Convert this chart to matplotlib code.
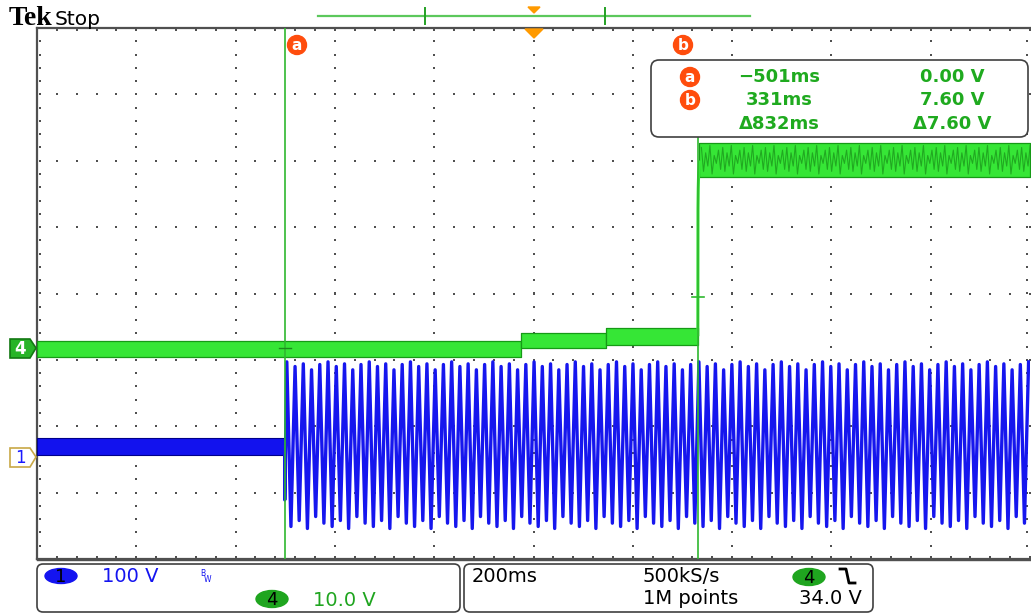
import numpy as np
import matplotlib.pyplot as plt
from matplotlib.patches import FancyBboxPatch, Circle, Ellipse, Polygon

W, H = 1031, 615

# screen: 200 ms/div, 10 x 8 divisions
t_min, t_max = -1000, 1000
ch1_scale = 100.0   # V/div
ch4_scale = 10.0    # V/div
ch1_ground = -2.46  # divisions from screen centre
ch4_ground = -0.82

# channel 4 (green): noisy bands, one per segment (ms, V)
ch4_t0 = [-1000, -26, 147, 334]
ch4_t1 = [-26, 147, 331, 1000]
ch4_lo = [-1.3, 0.0, 0.5, 25.8]
ch4_hi = [1.1, 2.2, 3.0, 30.8]
# rising edge at cursor b
ch4_edge_t = [331, 331.3, 331.8, 332.5, 334.5]
ch4_edge_v = [2.0, 21.0, 24.0, 26.0, 28.0]
# ripple on top of the high level
ch4_ripple_t0 = 336
ch4_ripple_period = 8.6   # ms
ch4_ripple_hi = [30.2, 29.4, 30.5, 29.0, 29.8]
ch4_ripple_lo = [26.6, 27.4, 26.2, 27.8, 26.9]

# channel 1 (blue): noisy DC before cursor a, mains after it
ch1_pre_t = [-1000, -501]
ch1_pre_lo = 2.0
ch1_pre_hi = 28.0
ch1_on_t = -501
ch1_kick = -65.0
ch1_period = 16.6   # ms
ch1_crest = [143, 136, 140, 131, 139]
ch1_trough = [-105, -96, -108, -90, -100]

# cursors
cur_a_t, cur_b_t = -501, 331
cur_b_v = 7.60

readout_ms = ["\u2212501ms", "331ms", "\u0394832ms"]
readout_v = ["0.00 V", "7.60 V", "\u03947.60 V"]

green = '#2fb82f'
trace_green = '#36e636'
blue = '#1616ee'
orange = '#ff4d0d'
grey = '#505050'


def to_div(v, scale, ground):
    return np.asarray(v, dtype=float) / scale + ground


def zigzag(t_start, t_end, period, highs, lows):
    # alternate crest / trough vertices every half period
    ts, vs = [], []
    n = int((t_end - t_start) / (period / 2)) + 1
    for k in range(n):
        ts.append(t_start + (k + 0.5) * period / 2)
        vs.append(highs[(k // 2) % len(highs)] if k % 2 == 0 else lows[(k // 2) % len(lows)])
    return ts, vs


fig = plt.figure(figsize=(W / 100, H / 100), dpi=100)
fig.patch.set_facecolor('white')

# screen axes in pixel-matched position
x0, x1, y0, y1 = 37, 1030, 28, 559
ax = fig.add_axes([x0 / W, 1 - y1 / H, (x1 - x0) / W, (y1 - y0) / H])
ax.set_xlim(t_min, t_max)
ax.set_ylim(-4, 4)
ax.set_xticks([])
ax.set_yticks([])
for side in ['top', 'left', 'bottom']:
    ax.spines[side].set_color(grey)
    ax.spines[side].set_linewidth(1.6)
ax.spines['right'].set_visible(False)

# graticule dots
minor_t = np.arange(t_min, t_max + 1, 40)
minor_y = np.arange(-4, 4.01, 0.2)
for gx in range(-800, 801, 200):
    ax.scatter(np.full(len(minor_y), gx), minor_y, s=1.6, marker='s',
               color=grey, linewidths=0, zorder=1)
for gy in range(-3, 4):
    ax.scatter(minor_t, np.full(len(minor_t), gy), s=1.6, marker='s',
               color=grey, linewidths=0, zorder=1)
# edge ticks
ax.scatter(minor_t, np.full(len(minor_t), 3.97), s=1.6, marker='s', color=grey, linewidths=0)
ax.scatter(minor_t, np.full(len(minor_t), -3.97), s=1.6, marker='s', color=grey, linewidths=0)
ax.scatter(np.full(len(minor_y), -994), minor_y, s=1.6, marker='s', color=grey, linewidths=0)
ax.scatter(np.full(len(minor_y), 994), minor_y, s=1.6, marker='s', color=grey, linewidths=0)

# channel 1 trace
ax.fill_between(ch1_pre_t, to_div(ch1_pre_lo, ch1_scale, ch1_ground),
                to_div(ch1_pre_hi, ch1_scale, ch1_ground),
                color='#1212ee', edgecolor='#00008a', lw=0.8, zorder=3)
zt, zv = zigzag(ch1_on_t, t_max, ch1_period, ch1_crest, ch1_trough)
ct = [ch1_on_t, ch1_on_t] + zt
cv = [(ch1_pre_lo + ch1_pre_hi) / 2, ch1_kick] + zv
ax.plot(ct, to_div(cv, ch1_scale, ch1_ground), color=blue, lw=2.4, zorder=3)

# channel 4 trace
for t0, t1, lo, hi in zip(ch4_t0, ch4_t1, ch4_lo, ch4_hi):
    ax.fill_between([t0, t1], to_div(lo, ch4_scale, ch4_ground),
                    to_div(hi, ch4_scale, ch4_ground),
                    color=trace_green, edgecolor='#169a16', lw=0.9, zorder=4)
ax.plot(ch4_edge_t, to_div(ch4_edge_v, ch4_scale, ch4_ground), color=trace_green,
        lw=2.2, zorder=4)
rt, rv = zigzag(ch4_ripple_t0, t_max, ch4_ripple_period, ch4_ripple_hi, ch4_ripple_lo)
ax.plot(rt, to_div(rv, ch4_scale, ch4_ground), color='#1e9e1e', lw=0.8,
        alpha=0.85, zorder=4)

# cursors (b is hidden behind the readout box above it)
ax.axvline(cur_a_t, color=green, lw=1.2, zorder=5)
ax.plot([cur_b_t, cur_b_t], [-4, (293.5 - 137) / 66.375], color=green, lw=1.2, zorder=5)
yb = to_div(cur_b_v, ch4_scale, ch4_ground)
ax.plot([cur_b_t - 12, cur_b_t + 12], [yb, yb], color=green, lw=1.2, zorder=5)
ya = to_div(0.0, ch4_scale, ch4_ground)
ax.plot([cur_a_t - 12, cur_a_t + 12], [ya, ya], color='#1d8a1d', lw=1.0, zorder=5)

# overlay in pixel coordinates for the scope decorations
ov = fig.add_axes([0, 0, 1, 1], zorder=5)
ov.set_xlim(0, W)
ov.set_ylim(H, 0)
ov.axis('off')
ov.patch.set_alpha(0)

ov.text(9, 25, "Tek", family='Liberation Serif', weight='bold', fontsize=20,
        va='baseline', ha='left')
ov.text(55, 25, "Stop", family='DejaVu Sans', fontsize=14.5, va='baseline', ha='left')

# record bar at the top
ov.plot([318, 750], [16, 16], color='#5cc85c', lw=1.6)
for bx in [425, 605]:
    ov.plot([bx, bx], [8, 24], color='#22a022', lw=1.4)
ov.add_patch(Polygon([[528, 7], [540, 7], [534, 13]], color='#ff9a00'))
ov.add_patch(Polygon([[525, 29], [543, 29], [534, 38]], color='#ff9a00'))


def badge(x, y, letter, r=9.5, fs=11):
    ov.add_patch(Circle((x, y), r, color=orange))
    ov.text(x, y + 0.5, letter, color='white', weight='bold', fontsize=fs,
            ha='center', va='center')


badge(297, 45, 'a')
badge(683, 45, 'b')

# cursor readout box
ov.add_patch(FancyBboxPatch((651, 60), 377, 77, boxstyle='round,pad=0,rounding_size=8',
                            facecolor='white', edgecolor='#404040', lw=1.2))
rows = [77, 100, 124]
badge(690, rows[0], 'a')
badge(690, rows[1], 'b')
for ry, ms, vv in zip(rows, readout_ms, readout_v):
    ov.text(779, ry, ms, color='#1faa1f', weight='bold', fontsize=13, ha='center', va='center')
    ov.text(952, ry, vv, color='#1faa1f', weight='bold', fontsize=13, ha='center', va='center')

# channel ground markers
ov.add_patch(Polygon([[10, 339], [30, 339], [36, 348], [30, 358], [10, 358]],
                     facecolor='#27b427', edgecolor='#127812', lw=1.2))
ov.text(20, 349, '4', color='white', weight='bold', fontsize=12, ha='center', va='center')
ov.add_patch(Polygon([[10, 448], [30, 448], [36, 457], [30, 467], [10, 467]],
                     facecolor='white', edgecolor='#c8a846', lw=1.2))
ov.text(20, 458, '1', color='#1a1aff', fontsize=12, ha='center', va='center')

# status boxes at the bottom
ov.plot([37, 1030], [560, 560], color=grey, lw=1.0)
ov.add_patch(FancyBboxPatch((37, 564), 423, 48, boxstyle='round,pad=0,rounding_size=6',
                            facecolor='white', edgecolor='#404040', lw=1.2))
ov.add_patch(FancyBboxPatch((464, 564), 409, 48, boxstyle='round,pad=0,rounding_size=6',
                            facecolor='white', edgecolor='#404040', lw=1.2))

ov.add_patch(Ellipse((61, 576), 32, 15, color='#1414f0'))
ov.text(61, 577, '1', color='black', fontsize=13, ha='center', va='center')
ov.text(102, 576, '100 V', color='#1414f0', fontsize=14, ha='left', va='center')
ov.text(200, 573, 'B', color='#1414f0', fontsize=5.5, ha='left', va='center')
ov.text(204, 579, 'W', color='#1414f0', fontsize=5.5, ha='left', va='center')
ov.add_patch(Ellipse((272, 599), 32, 17, color='#1fa51f'))
ov.text(272, 600, '4', color='black', fontsize=13, ha='center', va='center')
ov.text(313, 600, '10.0 V', color='#1fa51f', fontsize=14, ha='left', va='center')

ov.text(472, 576, '200ms', color='black', fontsize=14, ha='left', va='center')
ov.text(643, 576, '500kS/s', color='black', fontsize=14, ha='left', va='center')
ov.text(643, 599, '1M points', color='black', fontsize=14, ha='left', va='center')
ov.add_patch(Ellipse((809, 577), 32, 17, color='#1fa51f'))
ov.text(809, 578, '4', color='black', fontsize=13, ha='center', va='center')
ov.plot([840, 846, 849, 855], [569, 569, 583, 583], color='black', lw=2)
ov.text(862, 599, '34.0 V', color='black', fontsize=14, ha='right', va='center')

fig.savefig('out.png', dpi=100)
